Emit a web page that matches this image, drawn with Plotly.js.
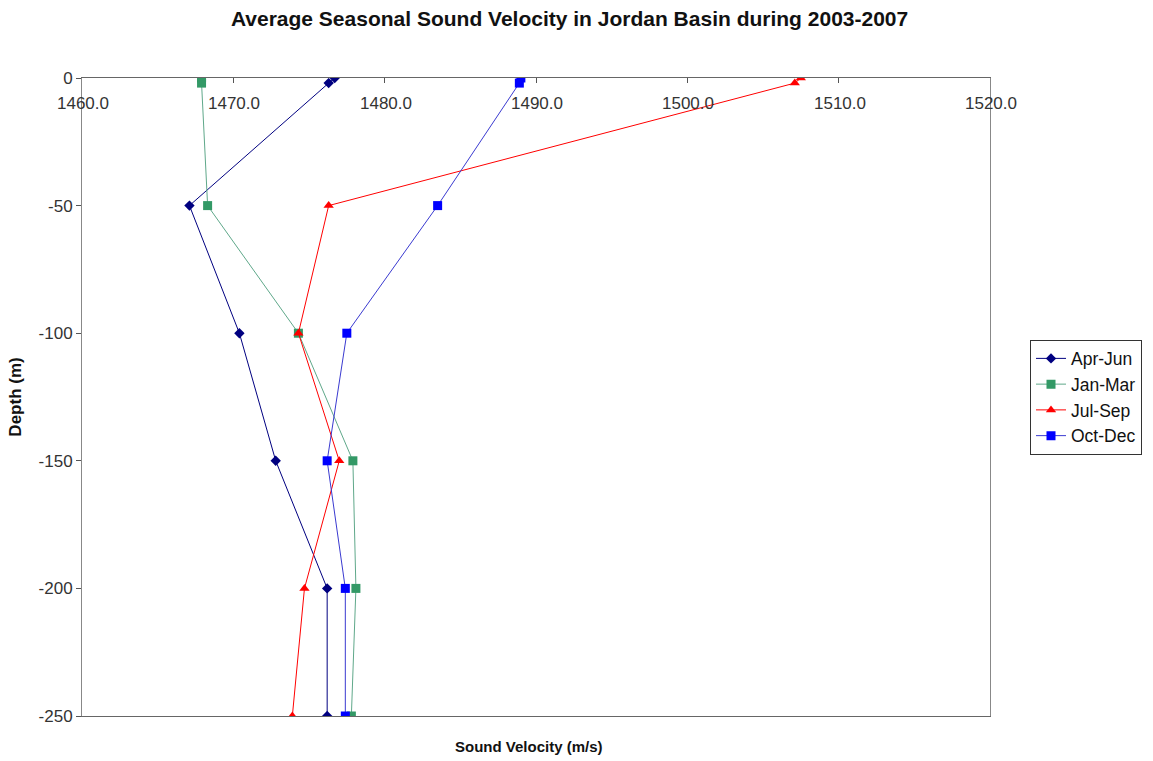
<!DOCTYPE html>
<html>
<head>
<meta charset="utf-8">
<script src="https://cdn.plot.ly/plotly-3.0.1.min.js"></script>
<style>
  html, body { margin: 0; padding: 0; background: #fff; }
  #chart { width: 1153px; height: 761px; }
</style>
</head>
<body>
<div id="chart"></div>
<script>
// Depth levels (m) of the seasonal averages
const depths = [0, -2, -50, -100, -150, -200, -250];

// Average sound velocity (m/s) per season at each depth
const aprJun = [1476.7, 1476.3, 1467.1, 1470.4, 1472.8, 1476.2, 1476.2];
const janMar = [1467.9, 1467.9, 1468.3, 1474.3, 1477.9, 1478.1, 1477.8];
const julSep = [1507.5, 1507.1, 1476.3, 1474.3, 1477.0, 1474.7, 1473.9];
const octDec = [1489.0, 1488.9, 1483.5, 1477.5, 1476.2, 1477.4, 1477.4];

const xTicks = [1460, 1470, 1480, 1490, 1500, 1510, 1520];
const yTicks = [0, -50, -100, -150, -200, -250];

function series(name, xs, lineColor, markerColor, symbol, size) {
  return {
    type: 'scatter',
    mode: 'lines+markers',
    name: name,
    x: xs,
    y: depths,
    line: { color: lineColor, width: 1 },
    marker: { color: markerColor, symbol: symbol, size: size }
  };
}

const traces = [
  series('Apr-Jun', aprJun, '#000080', '#000080', 'diamond', 8),
  series('Jan-Mar', janMar, '#5fa88a', '#339966', 'square', 9),
  series('Jul-Sep', julSep, '#ff0000', '#ff0000', 'triangle-up', 9),
  series('Oct-Dec', octDec, '#3a3ad0', '#0000ff', 'square', 9)
];

// The velocity axis sits along the top edge with its labels just beneath it
const xLabels = xTicks.map(v => ({
  text: v.toFixed(1),
  xref: 'x', yref: 'paper',
  x: v, y: 1,
  xshift: 1, yshift: -25,
  xanchor: 'center', yanchor: 'middle',
  showarrow: false,
  font: { size: 17, color: '#333' }
}));

const layout = {
  width: 1153,
  height: 761,
  paper_bgcolor: '#ffffff',
  plot_bgcolor: '#ffffff',
  margin: { l: 82, r: 163, t: 78, b: 45, autoexpand: false },
  font: { family: 'Liberation Sans, Arial, sans-serif', size: 13, color: '#222' },
  title: {
    text: '<b>Average Seasonal Sound Velocity in Jordan Basin during 2003-2007</b>',
    font: { size: 21, color: '#111' },
    x: 0.494, xanchor: 'center',
    y: 0.976, yanchor: 'middle'
  },
  xaxis: {
    side: 'top',
    range: [1460, 1520],
    tickvals: xTicks,
    showticklabels: false,
    ticks: 'inside',
    ticklen: 5,
    tickcolor: '#555',
    showgrid: false,
    zeroline: false,
    showline: true,
    linecolor: '#666',
    linewidth: 1,
    mirror: true,
    title: { text: '' }
  },
  yaxis: {
    range: [-250, 0],
    tickvals: yTicks,
    ticktext: yTicks.map(v => String(v)),
    ticks: 'outside',
    ticklen: 5,
    tickcolor: '#555',
    showgrid: false,
    zeroline: false,
    showline: true,
    linecolor: '#888',
    linewidth: 1,
    mirror: true,
    tickfont: { size: 17, color: '#333' },
    title: { text: '<b>Depth (m)</b>', font: { size: 17, color: '#111' }, standoff: 12 }
  },
  annotations: xLabels.concat([{
    text: '<b>Sound Velocity (m/s)</b>',
    xref: 'paper', yref: 'paper',
    x: 0.492, y: 0, yshift: -30,
    xanchor: 'center', yanchor: 'middle',
    showarrow: false,
    font: { size: 15, color: '#111' }
  }]),
  showlegend: true,
  legend: {
    xref: 'container', yref: 'container',
    x: 1030 / 1153, xanchor: 'left',
    y: 1 - 397 / 761, yanchor: 'middle',
    bgcolor: '#ffffff',
    bordercolor: '#333',
    borderwidth: 1,
    font: { size: 17.5, color: '#111' },
    itemwidth: 30,
    tracegroupgap: 0
  }
};

Plotly.newPlot('chart', traces, layout, { displayModeBar: false, staticPlot: true });
</script>
</body>
</html>
